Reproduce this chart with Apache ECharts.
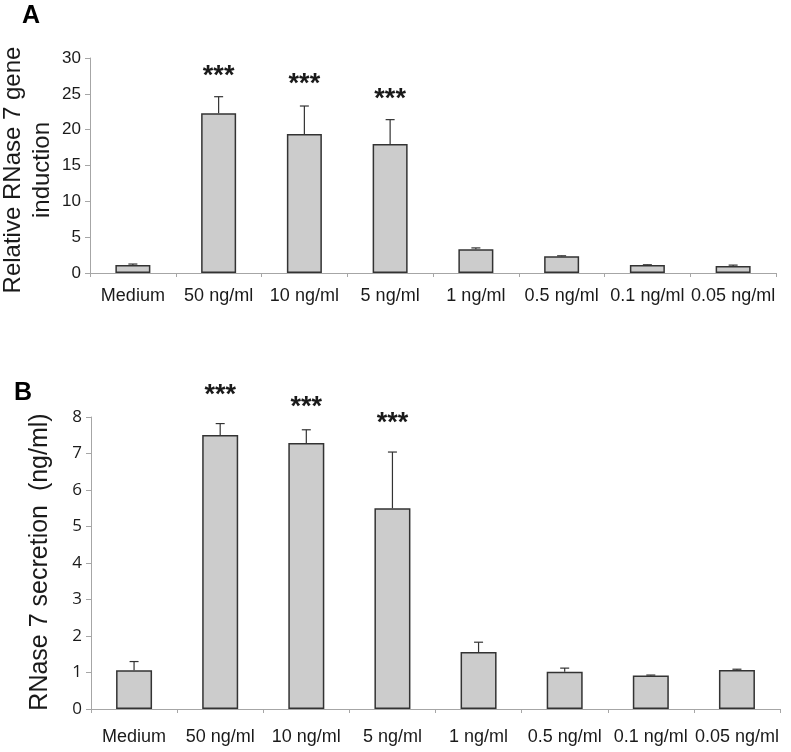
<!DOCTYPE html>
<html>
<head>
<meta charset="utf-8">
<script src="https://cdn.jsdelivr.net/npm/echarts@6/dist/echarts.min.js"></script>
<style>
html,body{margin:0;padding:0;background:#fff;}
#c{width:791px;height:752px;}
</style>
</head>
<body>
<div id="c"></div>
<script>
// ---- data ----
var categories = ['Medium', '50 ng/ml', '10 ng/ml', '5 ng/ml', '1 ng/ml', '0.5 ng/ml', '0.1 ng/ml', '0.05 ng/ml'];

// Panel A: relative RNase 7 gene induction
var valuesA = [1.1, 22.3, 19.4, 18.0, 3.3, 2.35, 1.1, 0.97];
var errTopA = [1.25, 24.6, 23.3, 21.4, 3.5, 2.4, 1.15, 1.1];
var starsA = ['', '***', '***', '***', '', '', '', ''];
var starLevelA = [null, 27.4, 26.3, 24.2, null, null, null, null];
var ticksA = { min: 0, max: 30, interval: 5 };

// Panel B: RNase 7 secretion (ng/ml)
var valuesB = [1.06, 7.51, 7.29, 5.5, 1.56, 1.02, 0.92, 1.07];
var errTopB = [1.3, 7.82, 7.65, 7.04, 1.83, 1.12, 0.93, 1.09];
var starsB = ['', '***', '***', '***', '', '', '', ''];
var starLevelB = [null, 8.6, 8.26, 7.81, null, null, null, null];
var ticksB = { min: 0, max: 8, interval: 1 };

// ---- build ----
var FONT = '"Liberation Sans", Arial, sans-serif';
var axisGray = '#a6a6a6';
var textCol = '#1a1a1a';

function errData(vals, tops) {
  return vals.map(function (v, i) { return [i, v, tops[i]]; });
}
function starData(levels, stars) {
  var out = [];
  levels.forEach(function (l, i) { if (l != null) out.push([i, l, stars[i]]); });
  return out;
}
function renderErr(params, api) {
  var b = api.coord([api.value(0), api.value(1)]);
  var t = api.coord([api.value(0), api.value(2)]);
  var half = 4.5;
  return {
    type: 'group',
    children: [
      { type: 'line', shape: { x1: b[0], y1: b[1], x2: t[0], y2: t[1] }, style: { stroke: '#333', lineWidth: 1.2 } },
      { type: 'line', shape: { x1: t[0] - half, y1: t[1], x2: t[0] + half, y2: t[1] }, style: { stroke: '#333', lineWidth: 1.2 } }
    ]
  };
}
function makeRenderStar(stars) {
  return function (params, api) {
    var p = api.coord([api.value(0), api.value(1)]);
    return {
      type: 'text',
      x: p[0], y: p[1],
      style: { text: stars[api.value(0)], fontSize: 27, fontWeight: 'bold', fontFamily: FONT, fill: textCol, align: 'center', verticalAlign: 'middle' }
    };
  };
}

function xAxisCfg(gridIndex, margin) {
  return {
    type: 'category', gridIndex: gridIndex, data: categories, boundaryGap: true,
    axisLine: { lineStyle: { color: axisGray, width: 1 } },
    axisTick: { show: true, length: 4, lineStyle: { color: axisGray } },
    axisLabel: { color: textCol, fontSize: 18, fontFamily: FONT, margin: margin, interval: 0 },
    splitLine: { show: false }
  };
}
function yAxisCfg(gridIndex, t, labelFont) {
  return {
    type: 'value', gridIndex: gridIndex, min: t.min, max: t.max, interval: t.interval,
    axisLine: { show: true, lineStyle: { color: axisGray, width: 1 } },
    axisTick: { show: true, length: 5, lineStyle: { color: axisGray } },
    axisLabel: { color: textCol, fontSize: 17, fontFamily: labelFont, margin: 9 },
    splitLine: { show: false }
  };
}

var barStyle = { color: '#cccccc', borderColor: '#333333', borderWidth: 1.5 };

var option = {
  animation: false,
  backgroundColor: '#ffffff',
  grid: [
    { left: 90, top: 58, width: 686, height: 215 },
    { left: 91, top: 417, width: 689, height: 292 }
  ],
  xAxis: [xAxisCfg(0, 14), xAxisCfg(1, 19)],
  yAxis: [yAxisCfg(0, ticksA, FONT), yAxisCfg(1, ticksB, '"Open Sans", ' + FONT)],
  graphic: [
    { type: 'text', left: 22, top: 4, style: { text: 'A', fontSize: 25, fontWeight: 'bold', fontFamily: FONT, fill: '#000' } },
    { type: 'text', left: 14, top: 381, style: { text: 'B', fontSize: 25, fontWeight: 'bold', fontFamily: FONT, fill: '#000' } },
    { type: 'text', x: 28, y: 170, rotation: Math.PI / 2,
      style: { text: 'Relative RNase 7 gene\ninduction', fontSize: 24, lineHeight: 29, fontFamily: FONT, fill: textCol, align: 'center', verticalAlign: 'middle' } },
    { type: 'text', x: 40, y: 562, rotation: Math.PI / 2,
      style: { text: 'RNase 7 secretion  (ng/ml)', fontSize: 25, fontFamily: FONT, fill: textCol, align: 'center', verticalAlign: 'middle' } }
  ],
  series: [
    { type: 'bar', xAxisIndex: 0, yAxisIndex: 0, data: valuesA, barWidth: 35, itemStyle: barStyle, silent: true },
    { type: 'custom', xAxisIndex: 0, yAxisIndex: 0, data: errData(valuesA, errTopA), renderItem: renderErr, encode: { x: 0, y: [1, 2] }, z: 3, silent: true },
    { type: 'custom', xAxisIndex: 0, yAxisIndex: 0, data: starData(starLevelA, starsA), renderItem: makeRenderStar(starsA), encode: { x: 0, y: 1 }, clip: false, z: 4, silent: true },
    { type: 'bar', xAxisIndex: 1, yAxisIndex: 1, data: valuesB, barWidth: 36, itemStyle: barStyle, silent: true },
    { type: 'custom', xAxisIndex: 1, yAxisIndex: 1, data: errData(valuesB, errTopB), renderItem: renderErr, encode: { x: 0, y: [1, 2] }, z: 3, silent: true },
    { type: 'custom', xAxisIndex: 1, yAxisIndex: 1, data: starData(starLevelB, starsB), renderItem: makeRenderStar(starsB), encode: { x: 0, y: 1 }, clip: false, z: 4, silent: true }
  ]
};

var chart = echarts.init(document.getElementById('c'), null, { renderer: 'canvas' });
chart.setOption(option);
</script>
</body>
</html>
